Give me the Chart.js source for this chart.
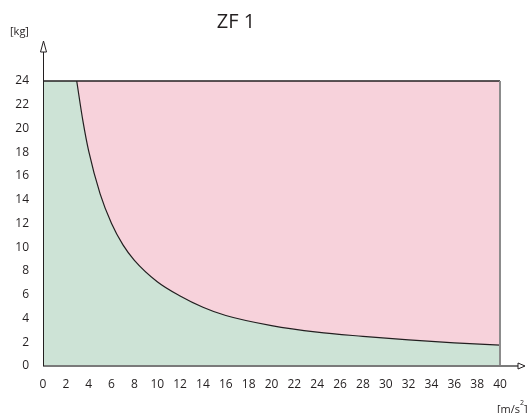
<!DOCTYPE html>
<html>
<head>
<meta charset="utf-8">
<script src="https://cdn.jsdelivr.net/npm/chart.js@4"></script>
<style>
  body { margin: 0; background: #fff; }
</style>
</head>
<body>
<canvas id="zfGraph" width="530" height="413"></canvas>
<script>
// acceleration [m/s2] vs max load [kg]
const accel = [2.95, 3.5, 4, 5, 6, 7, 8, 10, 12, 14, 16, 20, 24, 28, 32, 36, 40];
const maxLoad = [24, 20.6, 18.1, 14.5, 12.0, 10.2, 8.9, 7.1, 5.9, 4.95, 4.25, 3.4, 2.85, 2.5, 2.2, 1.95, 1.75];

// flat part left of the curve (full 24 kg)
const flatAccel = [0, 3.2];
const flatLoad = [24, 24];

const xTicks = [0, 2, 4, 6, 8, 10, 12, 14, 16, 18, 20, 22, 24, 26, 28, 30, 32, 34, 36, 38, 40];
const yTicks = [0, 2, 4, 6, 8, 10, 12, 14, 16, 18, 20, 22, 24];

const green = '#cde3d6';
const pink = '#f7d2db';
const ink = '#231f20';
const font = "'Open Sans', sans-serif";

const curvePts = accel.map((x, i) => ({ x: x, y: maxLoad[i] }));
const flatPts = flatAccel.map((x, i) => ({ x: x, y: flatLoad[i] }));

// axes, arrows and texts around the plot
const framePlugin = {
  id: 'frame',
  afterDraw(chart) {
    const c = chart.ctx;
    const xs = chart.scales.x, ys = chart.scales.y;
    const x0 = xs.getPixelForValue(0), x40 = xs.getPixelForValue(40);
    const y0 = ys.getPixelForValue(0), y24 = ys.getPixelForValue(24);
    c.save();

    // top line at 24
    c.strokeStyle = ink;
    c.lineWidth = 1.5;
    c.beginPath(); c.moveTo(x0, y24); c.lineTo(x40, y24); c.stroke();

    // right edge at 40
    c.strokeStyle = '#8c8c8c';
    c.lineWidth = 2;
    c.beginPath(); c.moveTo(x40, y24); c.lineTo(x40, y0); c.stroke();

    // x axis + arrow
    c.strokeStyle = '#7a7a7a';
    c.lineWidth = 2;
    c.beginPath(); c.moveTo(x0, y0); c.lineTo(x40 + 18, y0); c.stroke();
    c.lineWidth = 1;
    c.strokeStyle = ink;
    c.beginPath();
    c.moveTo(x40 + 18, y0 - 3); c.lineTo(x40 + 25, y0); c.lineTo(x40 + 18, y0 + 3); c.closePath();
    c.fillStyle = '#fff'; c.fill(); c.stroke();

    // y axis + arrow
    c.strokeStyle = ink;
    c.lineWidth = 1;
    c.beginPath(); c.moveTo(x0 + 0.5, y0); c.lineTo(x0 + 0.5, y24 - 29); c.stroke();
    c.beginPath();
    c.moveTo(x0 - 2.5, y24 - 29); c.lineTo(x0 + 0.5, y24 - 40); c.lineTo(x0 + 3.5, y24 - 29); c.closePath();
    c.fillStyle = '#fff'; c.fill(); c.stroke();

    // texts
    c.fillStyle = ink;
    c.textBaseline = 'alphabetic';
    c.textAlign = 'center';
    c.font = '20px ' + font;
    c.fillText('ZF 1', 236, 28);
    c.font = '11px ' + font;
    c.textAlign = 'left';
    c.fillText('[kg]', 10, 35);
    c.fillText('[m/s', 497, 413);
    const w = c.measureText('[m/s').width;
    c.font = '7px ' + font;
    c.fillText('2', 497 + w, 405);
    c.font = '11px ' + font;
    c.fillText(']', 497 + w + 4, 413);
    c.restore();
  }
};

new Chart(document.getElementById('zfGraph'), {
  type: 'line',
  data: {
    datasets: [
      {
        label: 'curve',
        data: curvePts,
        borderColor: ink,
        borderWidth: 1.2,
        backgroundColor: green,
        fill: 'origin',
        pointRadius: 0,
        cubicInterpolationMode: 'monotone'
      },
      {
        label: 'above',
        data: curvePts,
        borderWidth: 0,
        backgroundColor: pink,
        fill: 'end',
        pointRadius: 0,
        cubicInterpolationMode: 'monotone'
      },
      {
        label: 'flat',
        data: flatPts,
        borderWidth: 0,
        backgroundColor: green,
        fill: 'origin',
        pointRadius: 0
      }
    ]
  },
  options: {
    responsive: false,
    animation: false,
    devicePixelRatio: 1,
    layout: { padding: { top: 81, right: 30, left: 0, bottom: 0 } },
    plugins: { legend: { display: false }, tooltip: { enabled: false } },
    scales: {
      x: {
        type: 'linear',
        min: 0,
        max: 40,
        afterFit(s) { s.height = 47; },
        afterBuildTicks(s) { s.ticks = xTicks.map(v => ({ value: v })); },
        grid: { display: false, drawTicks: false },
        border: { display: false },
        ticks: { color: ink, font: { family: font, size: 12 }, padding: 11, maxRotation: 0, autoSkip: false }
      },
      y: {
        type: 'linear',
        min: 0,
        max: 24,
        afterFit(s) { s.width = 43; },
        afterBuildTicks(s) { s.ticks = yTicks.map(v => ({ value: v })); },
        grid: { display: false, drawTicks: false },
        border: { display: false },
        ticks: { color: ink, font: { family: font, size: 12 }, padding: 14, autoSkip: false }
      }
    }
  },
  plugins: [framePlugin]
});
</script>
</body>
</html>
